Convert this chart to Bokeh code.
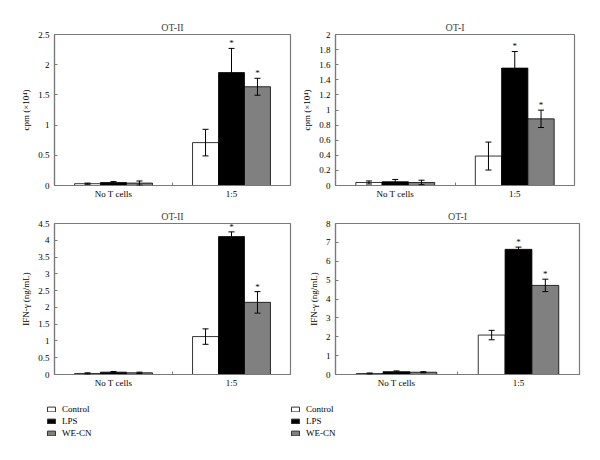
from bokeh.plotting import figure
from bokeh.models import (ColumnDataSource, Whisker, TeeHead, Range1d, FixedTicker,
                          Legend, LegendItem, Spacer, LabelSet)
from bokeh.layouts import column, row
from bokeh.embed import file_html
from bokeh.resources import INLINE

# ---------------- data ----------------
categories = ["No T cells", "1:5"]
series = ["Control", "LPS", "WE-CN"]
series_colors = ["white", "black", "#808080"]

# cpm (x10^4), OT-II
ot2_cpm_control = [0.03, 0.71]
ot2_cpm_control_err = [0.01, 0.22]
ot2_cpm_lps = [0.05, 1.87]
ot2_cpm_lps_err = [0.015, 0.40]
ot2_cpm_wecn = [0.04, 1.635]
ot2_cpm_wecn_err = [0.035, 0.14]

# cpm (x10^4), OT-I
ot1_cpm_control = [0.04, 0.39]
ot1_cpm_control_err = [0.02, 0.185]
ot1_cpm_lps = [0.05, 1.555]
ot1_cpm_lps_err = [0.03, 0.22]
ot1_cpm_wecn = [0.04, 0.883]
ot1_cpm_wecn_err = [0.03, 0.115]

# IFN-gamma (ng/mL), OT-II
ot2_ifn_control = [0.03, 1.13]
ot2_ifn_control_err = [0.02, 0.23]
ot2_ifn_lps = [0.07, 4.11]
ot2_ifn_lps_err = [0.02, 0.14]
ot2_ifn_wecn = [0.05, 2.15]
ot2_ifn_wecn_err = [0.02, 0.32]

# IFN-gamma (ng/mL), OT-I
ot1_ifn_control = [0.05, 2.09]
ot1_ifn_control_err = [0.03, 0.25]
ot1_ifn_lps = [0.15, 6.63]
ot1_ifn_lps_err = [0.04, 0.12]
ot1_ifn_wecn = [0.12, 4.72]
ot1_ifn_wecn_err = [0.03, 0.33]

# significance flags (asterisk) per series and category
sig_control = [False, False]
sig_lps = [False, True]
sig_wecn = [False, True]

# y ticks
ticks_ot2_cpm = [0, 0.5, 1, 1.5, 2, 2.5]
ticks_ot1_cpm = [0, 0.2, 0.4, 0.6, 0.8, 1, 1.2, 1.4, 1.6, 1.8, 2]
ticks_ot2_ifn = [0, 0.5, 1, 1.5, 2, 2.5, 3, 3.5, 4, 4.5]
ticks_ot1_ifn = [0, 1, 2, 3, 4, 5, 6, 7, 8]

FONT = "Liberation Serif"
AXIS_GRAY = "#7a7a7a"
BAR_W = 0.22


def make_panel(title, ylabel, ticks, vals, errs, fw, fh, bl, br, bt, bb):
    p = figure(frame_width=fw, frame_height=fh, output_backend="svg",
               toolbar_location=None, x_range=Range1d(0, 2),
               y_range=Range1d(ticks[0], ticks[-1]),
               min_border_left=bl, min_border_right=br,
               min_border_top=bt, min_border_bottom=bb,
               background_fill_color="white", border_fill_color="white")
    p.title.text = title
    p.title.align = "center"
    p.title.text_font = FONT
    p.title.text_font_size = "10px"
    p.title.text_font_style = "normal"
    p.title.standoff = 3
    p.xgrid.visible = False
    p.ygrid.visible = False
    p.outline_line_color = AXIS_GRAY
    p.outline_line_width = 1.2

    sigs = [sig_control, sig_lps, sig_wecn]
    for i, (s, col) in enumerate(zip(series, series_colors)):
        xs = [c + 0.5 + (i - 1) * BAR_W for c in range(len(categories))]
        top = vals[i]
        err = errs[i]
        src = ColumnDataSource(dict(x=xs, top=top,
                                    upper=[t + e for t, e in zip(top, err)],
                                    lower=[t - e for t, e in zip(top, err)]))
        p.vbar(x="x", top="top", width=BAR_W, bottom=0, source=src,
               fill_color=col, line_color="black", line_width=0.8)
        w = Whisker(source=src, base="x", upper="upper", lower="lower",
                    line_color="black", line_width=1,
                    upper_head=TeeHead(size=6, line_color="black", line_width=1),
                    lower_head=TeeHead(size=6, line_color="black", line_width=1),
                    level="annotation")
        p.add_layout(w)
        sx = [x for x, f in zip(xs, sigs[i]) if f]
        sy = [u for u, f in zip(src.data["upper"], sigs[i]) if f]
        if sx:
            ssrc = ColumnDataSource(dict(x=sx, y=sy, t=["*"] * len(sx)))
            lab = LabelSet(x="x", y="y", text="t", source=ssrc,
                           text_align="center", text_baseline="middle",
                           y_offset=5, text_font=FONT, text_font_size="9px",
                           text_color="black")
            p.add_layout(lab)

    # x axis
    xa = p.xaxis[0]
    xa.ticker = FixedTicker(ticks=[c + 0.5 for c in range(len(categories))],
                            minor_ticks=[1])
    xa.major_label_overrides = {c + 0.5: lab for c, lab in enumerate(categories)}
    xa.major_tick_in = 0
    xa.major_tick_out = 0
    xa.minor_tick_in = 3
    xa.minor_tick_out = 0
    xa.minor_tick_line_color = AXIS_GRAY
    xa.axis_line_color = AXIS_GRAY
    xa.axis_line_width = 1.2
    xa.major_label_text_font = FONT
    xa.major_label_text_font_size = "9px"
    xa.major_label_text_font_style = "normal"
    xa.major_label_text_color = "black"
    xa.major_label_standoff = 3

    # y axis
    ya = p.yaxis[0]
    ya.ticker = FixedTicker(ticks=ticks, minor_ticks=[])
    ya.major_label_overrides = {t: f"{t:g}" for t in ticks}
    ya.major_tick_in = 3
    ya.major_tick_out = 0
    ya.major_tick_line_color = AXIS_GRAY
    ya.axis_line_color = AXIS_GRAY
    ya.axis_line_width = 1.2
    ya.major_label_text_font = FONT
    ya.major_label_text_font_size = "9px"
    ya.major_label_text_font_style = "normal"
    ya.major_label_text_color = "black"
    ya.major_label_standoff = 5
    ya.axis_label = ylabel
    ya.axis_label_text_font = FONT
    ya.axis_label_text_font_size = "9px"
    ya.axis_label_text_font_style = "normal"
    ya.axis_label_text_color = "black"
    ya.axis_label_standoff = 4
    return p


p1 = make_panel("OT-II", "cpm (×10⁴)", ticks_ot2_cpm,
                [ot2_cpm_control, ot2_cpm_lps, ot2_cpm_wecn],
                [ot2_cpm_control_err, ot2_cpm_lps_err, ot2_cpm_wecn_err],
                236, 151, 54, 5, 20, 20)
p2 = make_panel("OT-I", "cpm (×10⁴)", ticks_ot1_cpm,
                [ot1_cpm_control, ot1_cpm_lps, ot1_cpm_wecn],
                [ot1_cpm_control_err, ot1_cpm_lps_err, ot1_cpm_wecn_err],
                239, 151, 40, 5, 20, 20)
p3 = make_panel("OT-II", "IFN-γ (ng/mL)", ticks_ot2_ifn,
                [ot2_ifn_control, ot2_ifn_lps, ot2_ifn_wecn],
                [ot2_ifn_control_err, ot2_ifn_lps_err, ot2_ifn_wecn_err],
                236, 151, 54, 5, 18, 20)
p4 = make_panel("OT-I", "IFN-γ (ng/mL)", ticks_ot1_ifn,
                [ot1_ifn_control, ot1_ifn_lps, ot1_ifn_wecn],
                [ot1_ifn_control_err, ot1_ifn_lps_err, ot1_ifn_wecn_err],
                244, 151, 40, 5, 18, 20)


def make_legend_fig(width, left):
    lf = figure(width=width, height=60, output_backend="svg", toolbar_location=None,
                x_range=Range1d(0, 1), y_range=Range1d(0, 1),
                x_axis_location=None, y_axis_location=None,
                min_border_left=left, min_border_right=0,
                min_border_top=0, min_border_bottom=0)
    lf.xgrid.visible = False
    lf.ygrid.visible = False
    lf.outline_line_color = None
    items = []
    for s, col in zip(series, series_colors):
        # a single quad far outside the visible range, only to feed the legend glyph
        r = lf.quad(left=[10], right=[11], top=[10], bottom=[9], fill_color=col,
                    line_color="#333333", line_width=1)
        items.append(LegendItem(label=s, renderers=[r]))
    leg = Legend(items=items, location="top_left", margin=10, padding=0,
                 border_line_color=None, background_fill_alpha=0,
                 glyph_width=10, glyph_height=6, label_height=10, spacing=2,
                 label_standoff=6, label_text_font=FONT,
                 label_text_font_size="9px", label_text_font_style="normal",
                 label_text_color="black")
    lf.add_layout(leg)
    return lf


lf1 = make_legend_fig(250, 36)
lf2 = make_legend_fig(300, 30)

layout = column(Spacer(height=14), row(p1, p2), row(p3, p4), row(lf1, lf2))

open("out.html", "w").write(file_html(layout, INLINE))
